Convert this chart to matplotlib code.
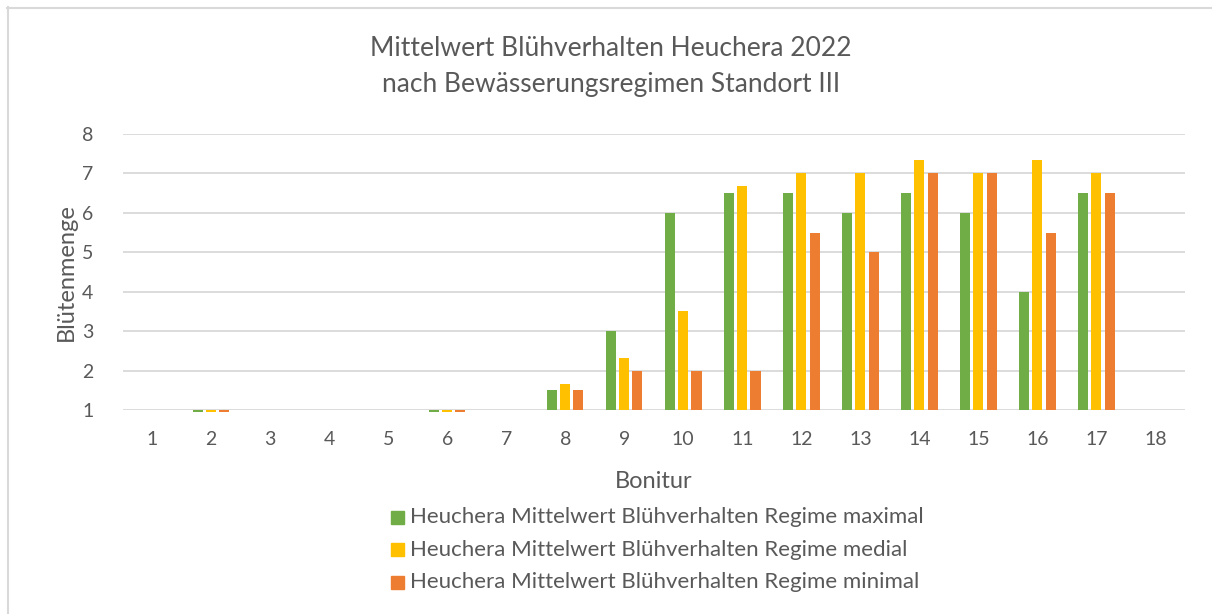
import matplotlib
matplotlib.use("Agg")
import matplotlib.pyplot as plt
import numpy as np
from matplotlib.patches import Rectangle
from matplotlib.lines import Line2D

plt.rcParams['font.family'] = ['Lato', 'DejaVu Sans']

categories = [str(i) for i in range(1, 19)]
maximal = [1, 0.95, 1, 1, 1, 0.95, 1, 1.5, 3, 6, 6.5, 6.5, 6, 6.5, 6, 4, 6.5, np.nan]
medial = [1, 0.95, 1, 1, 1, 0.95, 1, 1.67, 2.33, 3.5, 6.67, 7, 7, 7.33, 7, 7.33, 7, np.nan]
minimal = [1, 0.95, 1, 1, 1, 0.95, 1, 1.5, 2, 2, 2, 5.5, 5, 7, 7, 5.5, 6.5, np.nan]
series_names = ["Heuchera Mittelwert Blühverhalten Regime maximal",
                "Heuchera Mittelwert Blühverhalten Regime medial",
                "Heuchera Mittelwert Blühverhalten Regime minimal"]
colors = ["#70AD47", "#FFC000", "#ED7D31"]
title = "Mittelwert Blühverhalten Heuchera 2022\nnach Bewässerungsregimen Standort III"

W, H = 1212, 614
fig = plt.figure(figsize=(W / 100, H / 100), dpi=100)
txt = "#595959"

def fx(px):
    return px / W

def fy(py):
    return 1 - py / H

ax = fig.add_axes([fx(122.5), fy(410), fx(1185) - fx(122.5), fy(134) - fy(410)])
x = np.arange(len(categories))
base = 1
bw = 0.17
off = 0.224
for i, (vals, c) in enumerate(zip([maximal, medial, minimal], colors)):
    v = np.array(vals, dtype=float)
    ax.bar(x + (i - 1) * off, v - base, bottom=base, width=bw, color=c,
           edgecolor='none', clip_on=False, zorder=3)

ax.set_xlim(-0.5, len(categories) - 0.5)
ax.set_ylim(1, 8)
ax.set_yticks(range(1, 9))
ax.yaxis.grid(True, color="#D9D9D9", linewidth=1.3, zorder=0)
ax.set_axisbelow(True)
for s in ax.spines.values():
    s.set_visible(False)
ax.tick_params(axis='both', length=0, colors=txt, labelsize=14)
ax.tick_params(axis='y', pad=21)
ax.tick_params(axis='x', pad=15)
ax.set_xticks(x)
ax.set_xticklabels(categories)

fig.text(fx(611), fy(66.5), title, ha='center', va='center', fontsize=19,
         color=txt, linespacing=1.55)
fig.text(fx(66), fy(272), "Blütenmenge", rotation=90, ha='center', va='center',
         fontsize=17, color=txt)
fig.text(fx(654), fy(481), "Bonitur", ha='center', va='center', fontsize=17, color=txt)

for i, (name, c) in enumerate(zip(series_names, colors)):
    yc = 517 + i * 32.5
    fig.patches.append(Rectangle((fx(391), fy(yc + 6.5)), fx(13), fy(0) - fy(13),
                                 transform=fig.transFigure, color=c, figure=fig))
    fig.text(fx(410), fy(yc), name, ha='left', va='center', fontsize=16, color=txt)

# chart border
fig.add_artist(Line2D([fx(7), fx(1212)], [fy(7.5), fy(7.5)], color="#D9D9D9", linewidth=1.5))
fig.add_artist(Line2D([fx(7.5), fx(7.5)], [fy(7), fy(614)], color="#D9D9D9", linewidth=1.5))

fig.savefig("out.png", dpi=100)
